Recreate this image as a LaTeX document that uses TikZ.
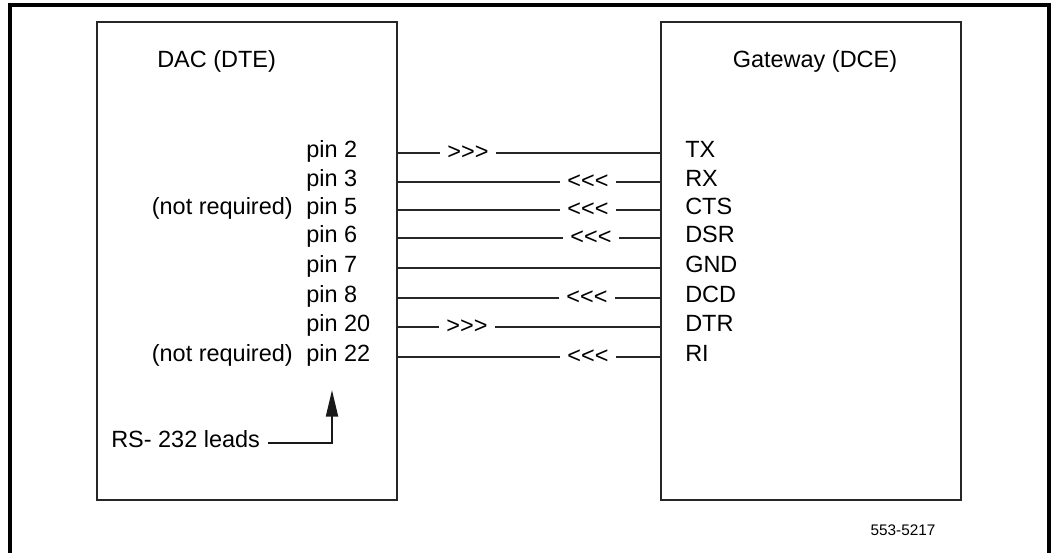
\documentclass[tikz,border=0pt]{standalone}
\usepackage{fontspec}
\setmainfont{Liberation Sans}
\usetikzlibrary{arrows.meta}

\begin{document}
\begin{tikzpicture}
        [x=0.75pt, y=-0.75pt,
        frame/.style={line width=2.5pt, black},
        unit/.style={draw, line width=1.5pt, black!85, minimum width=225pt, minimum height=358.5pt, outer sep=0pt},
        label/.style={inner sep=0pt, text height=0.95em, text depth=0.25em, font=\fontsize{17.6}{21}\selectfont},
        flow/.style={fill=white, inner xsep=5.5pt, inner ysep=0pt, font=\fontsize{17.6}{21}\selectfont},
        wire/.style={line width=1.5pt, black!85},
        lead/.style={line width=1.5pt, black!90, -{Triangle[length=20pt, width=9pt]}}]

        \useasboundingbox (0,0) rectangle (1053,553);
        \draw[frame] (10,553) -- (10,5) -- (1049,5) -- (1049,553);

        % the two units
        \node[unit] (dac) at (247,261) {};
        \node[unit] (gw) at (811,261) {};
        \node[label, anchor=west] (dte) at (157,63) {DAC (DTE)};
        \node[label] (dce) at (815,63) {Gateway (DCE)};

        % pins on the DTE side
        \node[label, anchor=west] (p2) at (306,153) {pin 2};
        \node[label, anchor=west] (p3) at (306,182) {pin 3};
        \node[label, anchor=west] (p5) at (306,210) {pin 5};
        \node[label, anchor=west] (p6) at (306,238) {pin 6};
        \node[label, anchor=west] (p7) at (306,268) {pin 7};
        \node[label, anchor=west] (p8) at (306,298) {pin 8};
        \node[label, anchor=west] (p20) at (306,327) {pin 20};
        \node[label, anchor=west] (p22) at (306,357) {pin 22};
        \node[label, anchor=east] (nr5) at (293,210) {(not required)};
        \node[label, anchor=east] (nr22) at (293,357) {(not required)};

        % signals on the DCE side
        \node[label, anchor=west] (tx) at (685,153) {TX};
        \node[label, anchor=west] (rx) at (685,182) {RX};
        \node[label, anchor=west] (cts) at (685,210) {CTS};
        \node[label, anchor=west] (dsr) at (685,238) {DSR};
        \node[label, anchor=west] (gnd) at (685,268) {GND};
        \node[label, anchor=west] (dcd) at (685,298) {DCD};
        \node[label, anchor=west] (dtr) at (685,327) {DTR};
        \node[label, anchor=west] (ri) at (685,357) {RI};

        % leads between the units
        \draw[wire] (dac.east |- p2) -- (gw.west |- tx);
        \draw[wire] (dac.east |- p3) -- (gw.west |- rx);
        \draw[wire] (dac.east |- p5) -- (gw.west |- cts);
        \draw[wire] (dac.east |- p6) -- (gw.west |- dsr);
        \draw[wire] (dac.east |- p7) -- (gw.west |- gnd);
        \draw[wire] (dac.east |- p8) -- (gw.west |- dcd);
        \draw[wire] (dac.east |- p20) -- (gw.west |- dtr);
        \draw[wire] (dac.east |- p22) -- (gw.west |- ri);

        % direction marks
        \node[flow] (f2) at (468,153) {>{}>{}>};
        \node[flow] (f3) at (588,182) {<{}<{}<};
        \node[flow] (f5) at (588,210) {<{}<{}<};
        \node[flow] (f6) at (591,238) {<{}<{}<};
        \node[flow] (f8) at (587,298) {<{}<{}<};
        \node[flow] (f20) at (467,327) {>{}>{}>};
        \node[flow] (f22) at (588,357) {<{}<{}<};

        % note
        \node[label, anchor=west] (rs) at (111,443) {RS- 232 leads};
        \coordinate (tip) at (332,390);
        \draw[lead] ([xshift=6pt]rs.east) -| (tip);

        \node[label, font=\fontsize{11.5}{14}\selectfont] (ref) at (903,531) {553-5217};

    \end{tikzpicture}
\end{document}
